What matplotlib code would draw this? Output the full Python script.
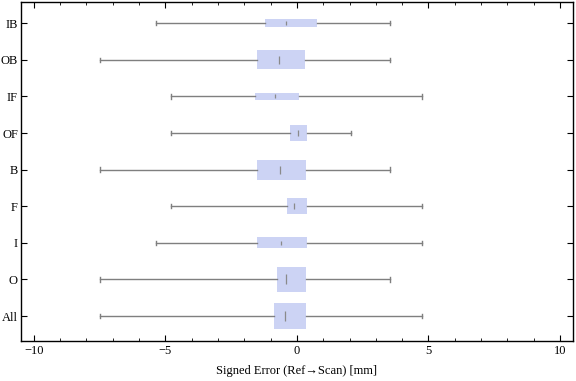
import matplotlib
matplotlib.use("Agg")
import matplotlib.pyplot as plt
import numpy as np

categories = ["All", "O", "I", "F", "B", "OF", "IF", "OB", "IB"]
whis_lo = [-7.49, -7.49, -5.36, -4.78, -7.49, -4.78, -4.78, -7.49, -5.36]
q1 = [-0.86, -0.74, -1.51, -0.36, -1.51, -0.25, -1.58, -1.51, -1.20]
median = [-0.44, -0.41, -0.62, -0.12, -0.65, 0.04, -0.83, -0.69, -0.43]
q3 = [0.33, 0.33, 0.37, 0.37, 0.33, 0.37, 0.09, 0.29, 0.78]
whis_hi = [4.77, 3.52, 4.77, 4.77, 3.52, 2.06, 4.77, 3.52, 3.52]
box_weight = [0.73, 0.66, 0.30, 0.44, 0.55, 0.44, 0.18, 0.52, 0.20]

plt.rcParams['font.family'] = ['Liberation Serif', 'DejaVu Serif']

fig = plt.figure(figsize=(5.76, 3.81), dpi=100)
ax = fig.add_axes([0.036, 0.105, 0.959, 0.89])

positions = np.arange(1, len(categories) + 1)
stats = []
for i, c in enumerate(categories):
    stats.append(dict(label=c, med=median[i], q1=q1[i], q3=q3[i],
                      whislo=whis_lo[i], whishi=whis_hi[i], fliers=[]))

box_color = "#ccd3f4"
ax.bxp(stats, positions=positions, widths=box_weight, orientation='horizontal',
       patch_artist=True, showfliers=False, capwidths=0.12,
       boxprops=dict(facecolor=box_color, edgecolor='none', linewidth=0),
       whiskerprops=dict(color='#7f7f7f', linewidth=1.0),
       capprops=dict(color='#7f7f7f', linewidth=1.0),
       medianprops=dict(linewidth=0, color='none'))

for i in range(len(categories)):
    ax.plot(median[i], positions[i], marker='|', color='#8a8a8a',
            markersize=max(2.5, box_weight[i] * 10), markeredgewidth=0.9, zorder=5)

ax.set_xlim(-10.5, 10.5)
ax.set_ylim(0.32, 9.58)
ax.set_yticks(positions)
ax.set_yticklabels(categories)
ax.set_xticks([-10, -5, 0, 5, 10])
ax.set_xticklabels(["\u221210", "\u22125", "0", "5", "10"])
ax.set_xticks(np.arange(-10, 11, 1), minor=True)
ax.tick_params(which='both', direction='in', top=True, right=True, labelsize=9, pad=3)
ax.tick_params(axis='y', pad=2)
ax.tick_params(which='major', length=4.5, width=0.8)
ax.tick_params(which='minor', length=2.5, width=0.6)
for s in ax.spines.values():
    s.set_linewidth(1.0)
ax.set_xlabel("Signed Error (Ref\u2192Scan) [mm]", fontsize=9, labelpad=6)

fig.savefig("out.png", dpi=100)
